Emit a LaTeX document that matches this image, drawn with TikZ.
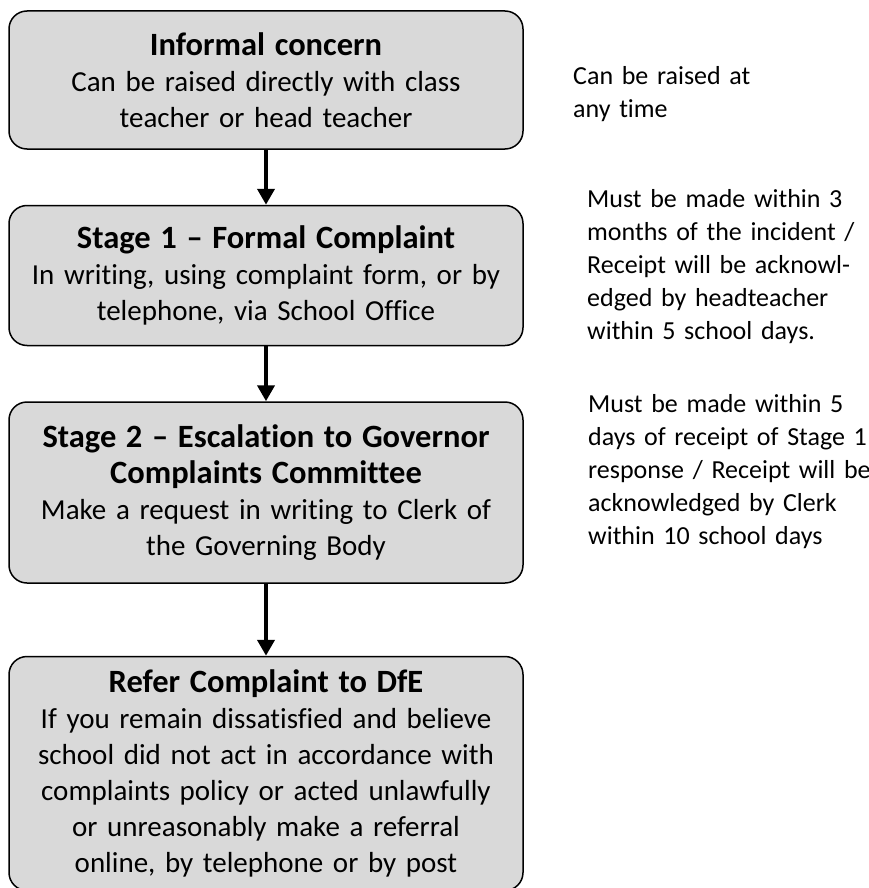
\documentclass[tikz,border=0pt]{standalone}
\usepackage{fontspec}
\setmainfont{Carlito}[Ligatures=NoCommon]
\usetikzlibrary{arrows.meta}
\usetikzlibrary{positioning}
\definecolor{boxgray}{HTML}{D9D9D9}
\newcommand{\stagetitle}[1]{{\fontsize{32.5}{38}\selectfont\bfseries #1}}
\tikzstyle{arrow} = [line width=4.5pt,-{Triangle[width=17pt,length=16pt]}]
\tikzstyle{stage} = [
    rectangle, rounded corners=18pt, minimum width=514pt, text width=500pt,
    align=center, inner sep=0pt, draw=black, line width=1.5pt, fill=boxgray,
    font=\fontsize{29}{36}\selectfont]
\tikzstyle{note} = [
    anchor=north west, inner sep=0pt, text width=285pt, align=left,
    font=\fontsize{26}{33}\selectfont]

\begin{document}
\begin{tikzpicture}[x=1pt,y=-1pt]
\useasboundingbox (0,0) rectangle (869,888);

\node (informal) [stage, minimum height=138pt] at (266,80) {
    \stagetitle{Informal concern} \\
    Can be raised directly with class \\
    teacher or head teacher
};

\node (stage1) [stage, minimum height=140pt, below=55pt of informal] {
    \stagetitle{Stage 1 -- Formal Complaint} \\
    In writing, using complaint form, or by \\
    telephone, via School Office
};

\node (stage2) [stage, minimum height=181pt, below=55pt of stage1] {
    \stagetitle{Stage 2 -- Escalation to Governor} \\
    \stagetitle{Complaints Committee} \\
    Make a request in writing to Clerk of \\
    the Governing Body
};

\node (dfe) [stage, minimum height=234pt, below=72pt of stage2] {
    \stagetitle{Refer Complaint to DfE} \\
    If you remain dissatisfied and believe \\
    school did not act in accordance with \\
    complaints policy or acted unlawfully \\
    or unreasonably make a referral \\
    online, by telephone or by post
};

\draw [arrow] (informal) -- (stage1);
\draw [arrow] (stage1) -- (stage2);
\draw [arrow] (stage2) -- (dfe);

% time limits beside each stage
\node (note1) [note] at (573,66) {
    Can be raised at \\
    any time
};
\node (note2) [note] at (587,189) {
    Must be made within 3 \\
    months of the incident / \\
    Receipt will be acknowl- \\
    edged by headteacher \\
    within 5 school days.
};
\node (note3) [note] at (588,394) {
    Must be made within 5 \\
    days of receipt of Stage 1 \\
    response / Receipt will be \\
    acknowledged by Clerk \\
    within 10 school days
};
\end{tikzpicture}
\end{document}
